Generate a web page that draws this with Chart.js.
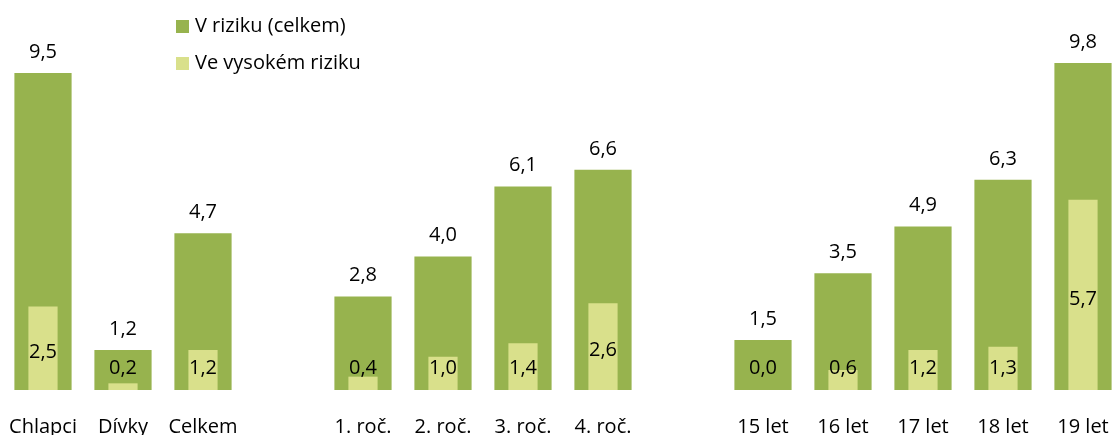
<!DOCTYPE html>
<html>
<head>
  <meta charset="UTF-8">
  <title>Riziko podle skupin</title>
  <script src="https://cdn.jsdelivr.net/npm/chart.js"></script>
  <style>
    body {
      margin: 0;
      overflow: hidden;
      background: #fff;
    }
    #wrap {
      width: 1130px;
      height: 455px;
    }
  </style>
</head>
<body>

  <div id="wrap">
    <canvas id="riskChart" width="1130" height="455"></canvas>
  </div>

  <script>
    // empty strings are the gaps between the three groups
    const categories = ['Chlapci', 'Dívky', 'Celkem', '', '1. roč.', '2. roč.', '3. roč.', '4. roč.', '', '15 let', '16 let', '17 let', '18 let', '19 let'];
    const riskTotal = [9.5, 1.2, 4.7, null, 2.8, 4.0, 6.1, 6.6, null, 1.5, 3.5, 4.9, 6.3, 9.8];
    const riskHigh  = [2.5, 0.2, 1.2, null, 0.4, 1.0, 1.4, 2.6, null, 0.0, 0.6, 1.2, 1.3, 5.7];
    const seriesNames = ['V riziku (celkem)', 'Ve vysokém riziku'];

    const DARK = '#97b34e';
    const LIGHT = '#d9e08b';
    const FONT = "'Open Sans', 'Noto Sans', sans-serif";
    const FONT_SIZE = 20;

    const fmt = v => v.toFixed(1).replace('.', ',');

    // value labels: above the dark bars, inside the light ones
    const valueLabels = {
      id: 'valueLabels',
      afterDatasetsDraw(chart) {
        const ctx = chart.ctx;
        ctx.save();
        ctx.font = FONT_SIZE + 'px ' + FONT;
        ctx.fillStyle = '#000';
        ctx.textAlign = 'center';
        ctx.textBaseline = 'middle';
        chart.data.datasets.forEach((ds, i) => {
          chart.getDatasetMeta(i).data.forEach((bar, j) => {
            const v = ds.data[j];
            if (v === null) return;
            let y;
            if (i === 0) {
              y = bar.y - 21;
            } else {
              y = Math.min((bar.y + bar.base) / 2 + 4, bar.base - 22);
            }
            ctx.fillText(fmt(v), bar.x, y);
          });
        });
        ctx.restore();
      }
    };

    // legend stacked in the top left corner
    const cornerLegend = {
      id: 'cornerLegend',
      afterDraw(chart) {
        const ctx = chart.ctx;
        ctx.save();
        ctx.font = FONT_SIZE + 'px ' + FONT;
        ctx.textBaseline = 'middle';
        chart.data.datasets.forEach((ds, i) => {
          const cy = 26.5 + i * 37;
          ctx.fillStyle = ds.backgroundColor;
          ctx.fillRect(176, cy - 6.5, 13, 13);
          ctx.fillStyle = '#000';
          ctx.fillText(ds.label, 195, cy);
        });
        ctx.restore();
      }
    };

    new Chart(document.getElementById('riskChart'), {
      type: 'bar',
      data: {
        labels: categories,
        datasets: [
          {
            label: seriesNames[0],
            data: riskTotal,
            backgroundColor: DARK,
            grouped: false,
            order: 1,
            categoryPercentage: 1,
            barPercentage: 0.715
          },
          {
            label: seriesNames[1],
            data: riskHigh,
            backgroundColor: LIGHT,
            grouped: false,
            order: 0,
            categoryPercentage: 1,
            barPercentage: 0.365
          }
        ]
      },
      options: {
        responsive: false,
        animation: false,
        layout: {
          padding: { left: 3, right: 7, top: 23, bottom: 0 }
        },
        plugins: {
          legend: { display: false },
          tooltip: { enabled: false }
        },
        scales: {
          x: {
            grid: { display: false },
            border: { display: false },
            ticks: {
              color: '#000',
              font: { family: FONT, size: FONT_SIZE },
              padding: 17,
              maxRotation: 0,
              autoSkip: false
            },
            afterFit(scale) {
              // keep the plot area exactly where the original one sits
              scale.paddingLeft = 0;
              scale.paddingRight = 0;
              scale.height = 65;
            }
          },
          y: {
            display: false,
            min: 0,
            max: 11
          }
        }
      },
      plugins: [valueLabels, cornerLegend]
    });
  </script>

</body>
</html>
